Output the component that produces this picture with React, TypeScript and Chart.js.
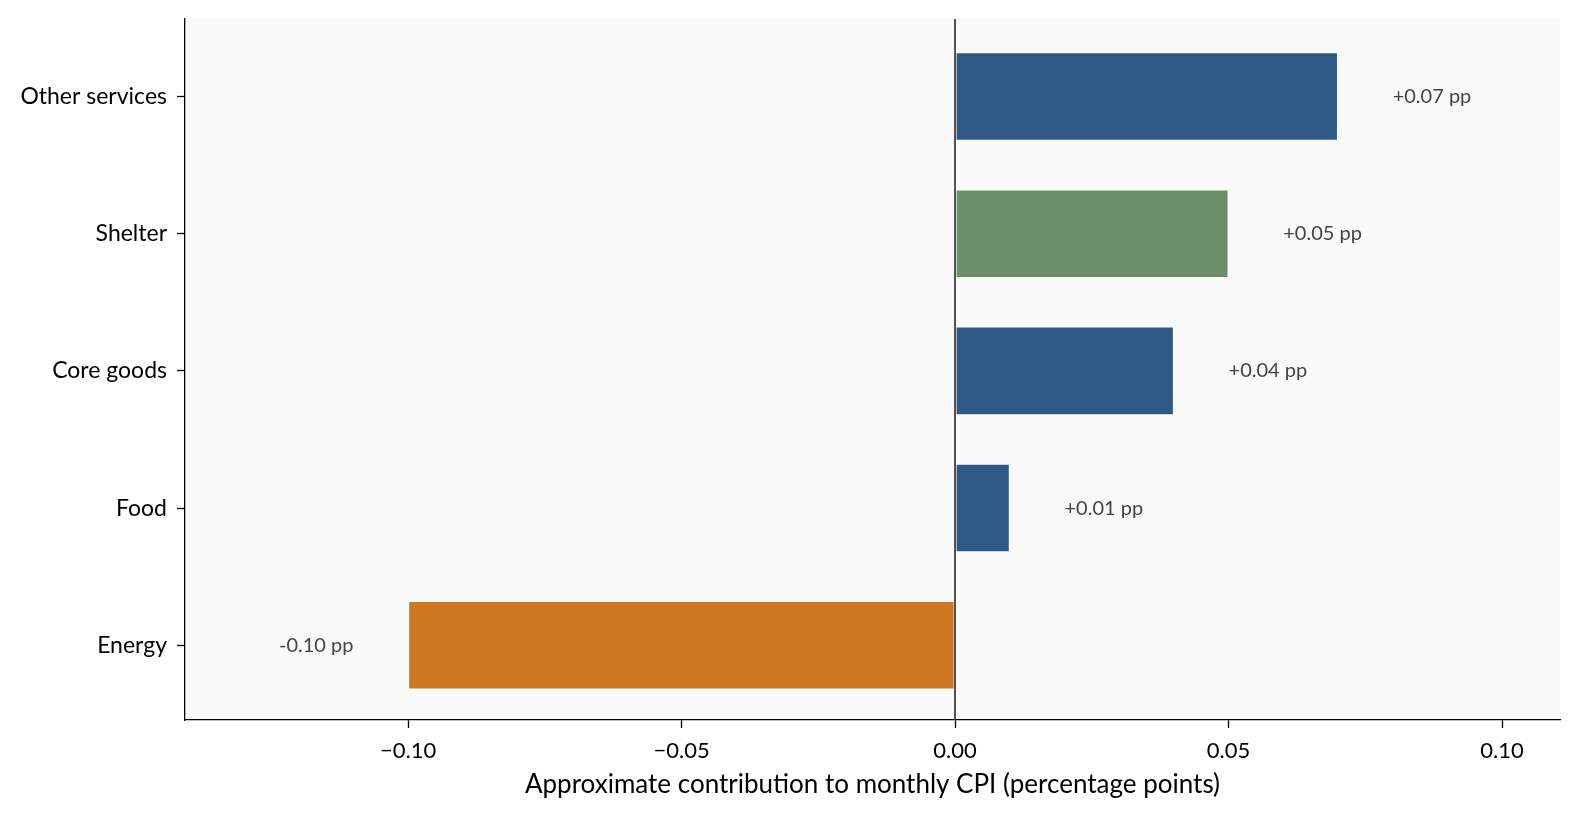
import React, { useEffect, useRef } from "react";
import { Chart, registerables } from "chart.js";

Chart.register(...registerables);

const categories = ["Other services", "Shelter", "Core goods", "Food", "Energy"];
const values = [0.07, 0.05, 0.04, 0.01, -0.1];
const barColors = ["#2e5984", "#6b8f6b", "#2e5984", "#2e5984", "#cc7722"];
const valueLabels = ["+0.07 pp", "+0.05 pp", "+0.04 pp", "+0.01 pp", "-0.10 pp"];
const xTicks = [-0.1, -0.05, 0, 0.05, 0.1];
const xTitle = "Approximate contribution to monthly CPI (percentage points)";

const FONT = "Lato, 'Noto Sans', sans-serif";

export default function App() {
  const ref = useRef<HTMLCanvasElement | null>(null);

  useEffect(() => {
    if (!ref.current) return;
    const bgPlugin = {
      id: "bgPlugin",
      beforeDraw(chart: any) {
        const { ctx, chartArea } = chart;
        ctx.save();
        ctx.fillStyle = "#ffffff";
        ctx.fillRect(0, 0, chart.width, chart.height);
        ctx.fillStyle = "#f9f9f9";
        ctx.fillRect(chartArea.left, chartArea.top, chartArea.right - chartArea.left, chartArea.bottom - chartArea.top);
        ctx.restore();
      },
      afterDatasetsDraw(chart: any) {
        const { ctx, chartArea } = chart;
        const xs = chart.scales.x;
        const ys = chart.scales.y;
        ctx.save();
        const x0 = Math.round(xs.getPixelForValue(0));
        ctx.strokeStyle = "#404040";
        ctx.lineWidth = 1.8;
        ctx.beginPath();
        ctx.moveTo(x0, chartArea.top);
        ctx.lineTo(x0, chartArea.bottom);
        ctx.stroke();
        ctx.fillStyle = "#444444";
        ctx.font = `20px ${FONT}`;
        ctx.textBaseline = "middle";
        values.forEach((v, i) => {
          const y = ys.getPixelForValue(i);
          if (v >= 0) {
            ctx.textAlign = "left";
            ctx.fillText(valueLabels[i], xs.getPixelForValue(v + 0.01), y);
          } else {
            ctx.textAlign = "right";
            ctx.fillText(valueLabels[i], xs.getPixelForValue(v - 0.01), y);
          }
        });
        ctx.restore();
      },
    };

    const chart = new Chart(ref.current, {
      type: "bar",
      data: {
        datasets: [
          {
            data: values.map((v, i) => ({ x: v, y: i })),
            backgroundColor: barColors,
            borderColor: "#ffffff",
            borderWidth: 1,
            borderSkipped: false,
            categoryPercentage: 1,
            barPercentage: 0.645,
          },
        ],
      },
      options: {
        indexAxis: "y",
        animation: false,
        responsive: false,
        maintainAspectRatio: false,
        layout: { padding: { top: 19, right: 20, left: 0, bottom: 0 } },
        plugins: { legend: { display: false }, tooltip: { enabled: false } },
        scales: {
          y: {
            type: "linear",
            reverse: true,
            min: -0.564,
            max: 4.544,
            offset: false,
            afterFit: (s: any) => {
              s.width = 185;
              s.paddingTop = 0;
              s.paddingBottom = 0;
              s.paddingLeft = 0;
              s.paddingRight = 0;
            },
            ticks: {
              stepSize: 1,
              includeBounds: false,
              autoSkip: false,
              padding: 10,
              color: "#000000",
              font: { family: FONT, size: 23 },
              callback: (v: any) => {
                const i = Math.round(Number(v));
                return Math.abs(Number(v) - i) < 1e-6 && categories[i] ? categories[i] : "";
              },
            },
            grid: {
              display: true,
              drawOnChartArea: false,
              drawTicks: true,
              tickLength: 8,
              tickColor: "#000000",
              tickWidth: 1.3,
              offset: false,
            },
            border: { display: true, color: "#000000", width: 1.3 },
          },
          x: {
            type: "linear",
            min: -0.1408,
            max: 0.1106,
            afterFit: (s: any) => {
              s.height = 96;
              s.paddingTop = 0;
              s.paddingBottom = 0;
              s.paddingLeft = 0;
              s.paddingRight = 0;
            },
            afterBuildTicks: (s: any) => {
              s.ticks = xTicks.map((v) => ({ value: v }));
            },
            ticks: {
              autoSkip: false,
              padding: 10,
              color: "#000000",
              font: { family: FONT, size: 22 },
              callback: (v: any) => {
                const n = Number(v);
                const s = Math.abs(n).toFixed(2);
                return n < -1e-9 ? "\u2212" + s : s;
              },
            },
            grid: {
              display: true,
              drawOnChartArea: false,
              drawTicks: true,
              tickLength: 8,
              tickColor: "#000000",
              tickWidth: 1.3,
            },
            border: { display: true, color: "#000000", width: 1.3 },
            title: {
              display: true,
              text: xTitle,
              color: "#000000",
              font: { family: FONT, size: 26 },
              padding: { top: 4, bottom: 16 },
            },
          },
        },
      },
      plugins: [bgPlugin],
    } as any);
    return () => chart.destroy();
  }, []);

  return (
    <div style={{ position: "fixed", left: 0, top: 0, width: 1580, height: 816, background: "#ffffff" }}>
      <canvas ref={ref} width={1580} height={816} style={{ width: 1580, height: 816 }} />
    </div>
  );
}
